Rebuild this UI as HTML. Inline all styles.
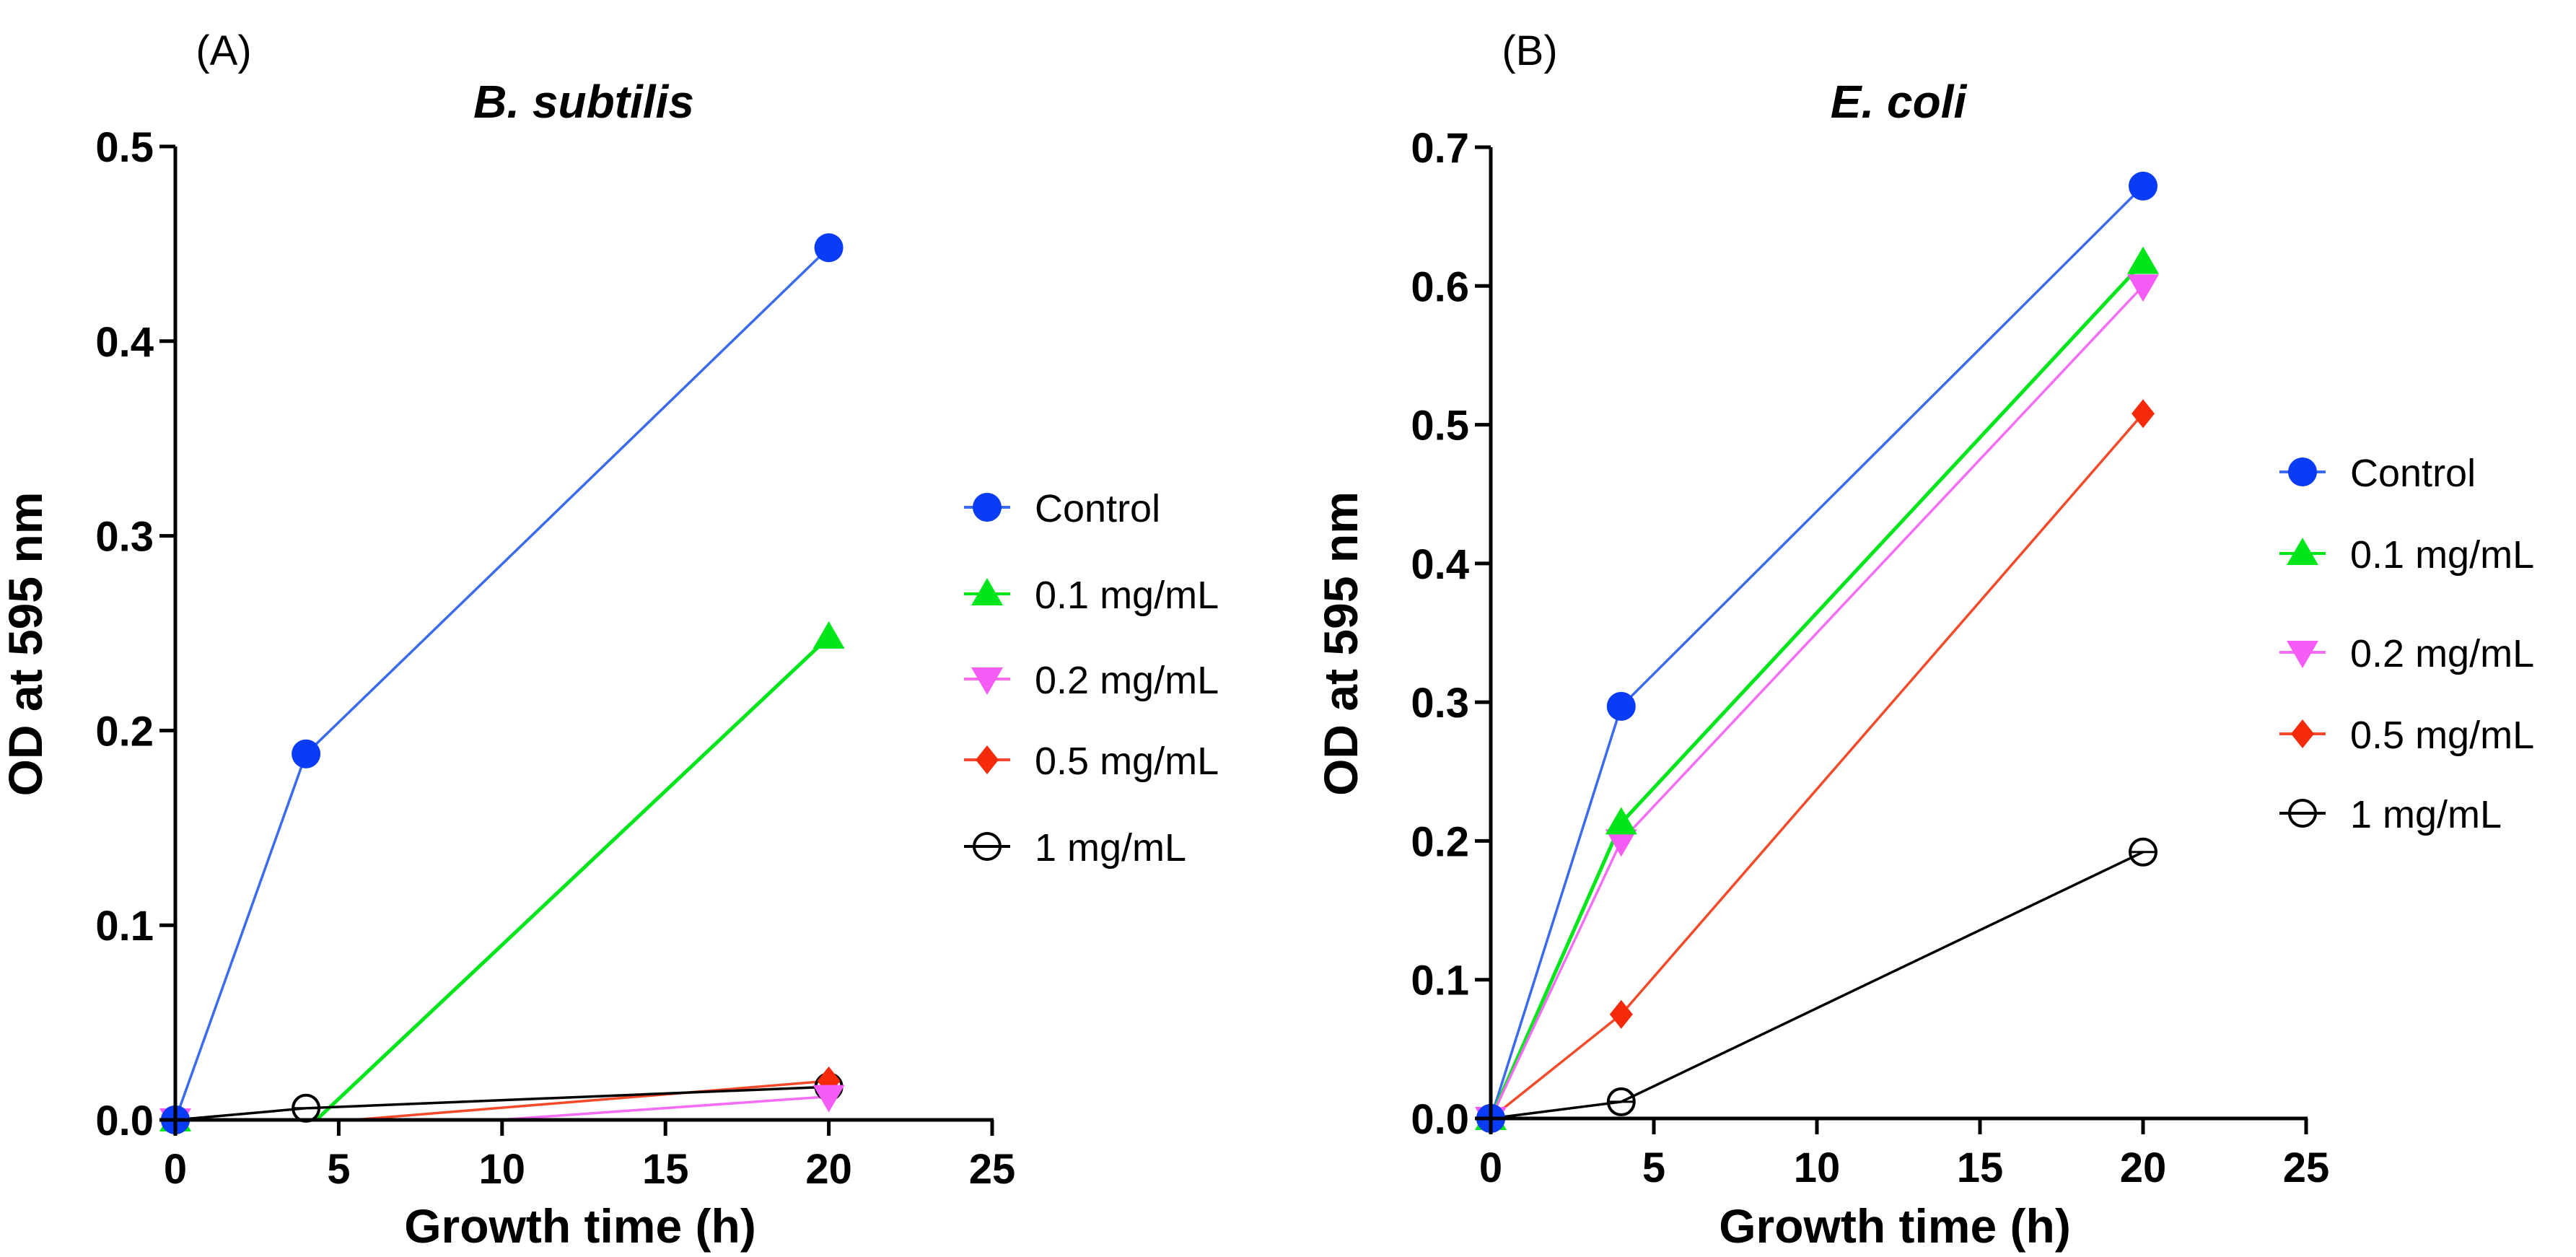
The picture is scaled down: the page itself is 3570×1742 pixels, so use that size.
<!DOCTYPE html>
<html><head><meta charset="utf-8"><style>
html,body{margin:0;padding:0;background:#fff;}
svg{display:block;font-family:"Liberation Sans",Arial,sans-serif;}
</style></head><body>
<svg id="fig" width="3570" height="1742" viewBox="0 0 3570 1742" xmlns="http://www.w3.org/2000/svg"></svg>
<script>
const timesH = [0, 4, 20];
const seriesNames = ["Control", "0.1 mg/mL", "0.2 mg/mL", "0.5 mg/mL", "1 mg/mL"];
const subtilisControl = [0, 0.188, 0.448];
const subtilis01 = [0, -0.005, 0.248];
const subtilis02 = [0, -0.007, 0.012];
const subtilis05 = [0, -0.002, 0.020];
const subtilis1 = [0, 0.006, 0.017];
const coliControl = [0, 0.297, 0.672];
const coli01 = [0, 0.213, 0.617];
const coli02 = [0, 0.200, 0.600];
const coli05 = [0, 0.075, 0.508];
const coli1 = [0, 0.012, 0.192];
const xTicks = [0, 5, 10, 15, 20, 25];
const yTicksA = [0, 0.1, 0.2, 0.3, 0.4, 0.5];
const yTicksB = [0, 0.1, 0.2, 0.3, 0.4, 0.5, 0.6, 0.7];

const NS = "http://www.w3.org/2000/svg";
const svg = document.getElementById("fig");
const colors = ["#0a3cf5", "#00e61a", "#f55cf5", "#f52a0a", "#000000"];
const lineColors = ["#3a6af0", "#00e61a", "#f56cf5", "#f54a2a", "#000000"];
const shapes = ["circle", "up", "down", "diamond", "open"];

function mk(tag, attrs, parent) {
  const e = document.createElementNS(NS, tag);
  for (const k in attrs) e.setAttribute(k, attrs[k]);
  (parent || svg).appendChild(e);
  return e;
}
function marker(g, shape, cx, cy, i) {
  const c = colors[i];
  let m;
  if (shape === "circle") m = mk("circle", {cx, cy, r: 20, fill: c}, g);
  else if (shape === "up") m = mk("polygon", {points: `${cx},${cy-22} ${cx+22},${cy+16} ${cx-22},${cy+16}`, fill: c}, g);
  else if (shape === "down") m = mk("polygon", {points: `${cx},${cy+22} ${cx+22},${cy-16} ${cx-22},${cy-16}`, fill: c}, g);
  else if (shape === "diamond") m = mk("polygon", {points: `${cx},${cy-20} ${cx+16},${cy} ${cx},${cy+20} ${cx-16},${cy}`, fill: c}, g);
  else {
    m = mk("g", {}, g);
    mk("circle", {cx, cy, r: 18, fill: "none", stroke: "#000", "stroke-width": 4}, m);
    mk("line", {x1: cx-18, y1: cy, x2: cx+18, y2: cy, stroke: "#000", "stroke-width": 3}, m);
  }
  return m;
}

function panel(cfg) {
  const {id, x0, x1, y0, yTop, yMax, yTicks, series, title, letter, letterX, legX, legY, titleX} = cfg;
  const xs = v => x0 + (v / 25) * (x1 - x0);
  const ys = v => y0 - (v / yMax) * (y0 - yTop);
  const g = mk("g", {});
  
  
  const clip = mk("clipPath", {id: id + "clip"}, g);
  mk("rect", {x: x0 - 30, y: yTop - 40, width: x1 - x0 + 60, height: y0 - yTop + 40}, clip);
  const sg = mk("g", {"clip-path": `url(#${id}clip)`}, g);
  series.forEach((vals, i) => {
    const pts = vals.map((v, k) => `${xs(timesH[k])},${ys(v)}`).join(" ");
    const pl = mk("polyline", {points: pts, fill: "none", stroke: lineColors[i], "stroke-width": i === 1 ? 5 : 3.5}, sg);
    
    
  });
  const mg = mk("g", {}, g);
  const mclip = mk("clipPath", {id: id + "mclip"}, g);
  mk("rect", {x: x0 - 40, y: yTop - 40, width: x1 - x0 + 80, height: y0 - yTop + 62}, mclip);
  mg.setAttribute("clip-path", `url(#${id}mclip)`);
  for (let i = series.length - 1; i >= 0; i--) {
    series[i].forEach((v, k) => {
      if (v < 0) return;
      const m = marker(mg, shapes[i], xs(timesH[k]), ys(v), i);
      
      
    });
  }
  const ax = mk("g", {stroke: "#000", "stroke-width": 5}, g);
  
  
  mk("line", {x1: x0, y1: y0, x2: x1 + 2, y2: y0}, ax);
  mk("line", {x1: x0, y1: y0 + 2, x2: x0, y2: yTop}, ax);
  xTicks.forEach(t => {
    mk("line", {x1: xs(t), y1: y0, x2: xs(t), y2: y0 + 22}, ax);
    const tx = mk("text", {x: xs(t), y: y0 + 88, "text-anchor": "middle", "font-size": 58, "font-weight": "bold"}, g);
    tx.textContent = t;
    
    
  });
  yTicks.forEach(t => {
    mk("line", {x1: x0 - 22, y1: ys(t), x2: x0, y2: ys(t)}, ax);
    const tx = mk("text", {x: x0 - 30, y: ys(t) + 21, "text-anchor": "end", "font-size": 58, "font-weight": "bold"}, g);
    tx.textContent = t.toFixed(1);
    
    
  });
  const xt = mk("text", {x: (x0 + x1) / 2 - 5, y: 1722, "text-anchor": "middle", "font-size": 66, "font-weight": "bold"}, g);
  xt.textContent = "Growth time (h)";
  
  
  const ycx = x0 - 185, ycy = (y0 + yTop) / 2 + 15;
  const yt = mk("text", {x: ycx, y: ycy, "text-anchor": "middle", "font-size": 66, "font-weight": "bold", transform: `rotate(-90 ${ycx} ${ycy})`}, g);
  yt.textContent = "OD at 595 nm";
  
  
  const tt = mk("text", {x: titleX, y: 163, "text-anchor": "middle", "font-size": 64, "font-weight": "bold", "font-style": "italic"}, g);
  tt.textContent = title;
  
  
  const lt = mk("text", {x: letterX, y: 90, "text-anchor": "middle", "font-size": 58}, g);
  lt.textContent = letter;
  
  
  seriesNames.forEach((n, i) => {
    const le = mk("g", {}, g);
    
    
    const yy = legY[i];
    mk("line", {x1: legX - 32, y1: yy, x2: legX + 32, y2: yy, stroke: lineColors[i], "stroke-width": 4}, le);
    marker(le, shapes[i], legX, yy, i);
    const t = mk("text", {x: legX + 66, y: yy + 20, "font-size": 54}, le);
    t.textContent = n;
  });
}

panel({id: "subtilis", x0: 243, x1: 1375, y0: 1552, yTop: 203, yMax: 0.5, yTicks: yTicksA,
  series: [subtilisControl, subtilis01, subtilis02, subtilis05, subtilis1],
  title: "B. subtilis", titleX: 809, letter: "(A)", letterX: 310, legX: 1368, legY: [703, 823, 941, 1053, 1173]});
panel({id: "coli", x0: 2066, x1: 3196, y0: 1550, yTop: 204, yMax: 0.7, yTicks: yTicksB,
  series: [coliControl, coli01, coli02, coli05, coli1],
  title: "E. coli", titleX: 2631, letter: "(B)", letterX: 2120, legX: 3191, legY: [654, 767, 904, 1017, 1127]});
</script>
</body></html>
